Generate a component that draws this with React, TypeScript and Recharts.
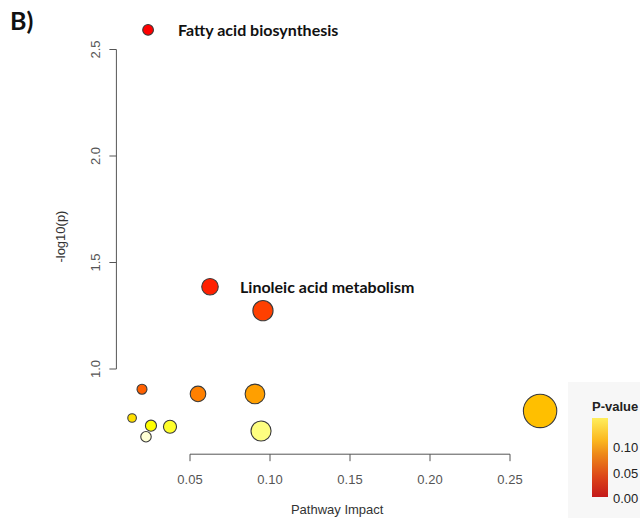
import React from 'react';
import {
  ScatterChart,
  Scatter,
  XAxis,
  YAxis,
  ZAxis,
  ReferenceLine,
  Label,
} from 'recharts';

// pathway topology results, ordered by -log10(p)
const pathwayLabels = [
  'Fatty acid biosynthesis',
  'Linoleic acid metabolism',
  '',
  '',
  '',
  '',
  '',
  '',
  '',
  '',
  '',
  '',
];
const pathwayImpact = [
  0.0238, 0.0625, 0.0956, 0.02, 0.055, 0.0906, 0.2688, 0.0138, 0.0256, 0.0375, 0.0944, 0.0225,
];
const negLogP = [
  2.592, 1.386, 1.274, 0.905, 0.883, 0.883, 0.803, 0.77, 0.734, 0.729, 0.709, 0.682,
];

const xTicks = [0.05, 0.1, 0.15, 0.2, 0.25];
const yTicks = [1.0, 1.5, 2.0, 2.5];
const legendTicks = ['0.10', '0.05', '0.00'];

const X_DOMAIN: [number, number] = [0.004, 0.3];
const Y_DOMAIN: [number, number] = [0.6, 2.7];

const AXIS_COLOR = '#555';
const AXIS_FONT = '"Liberation Sans", Arial, sans-serif';
const NOTE_FONT = 'Lato, "Open Sans", sans-serif';

// R's heat.colors(n)
const heatColor = (i: number, n: number) => {
  const j = Math.floor(n / 4);
  const k = n - j;
  const hex = (v: number) => Math.round(v).toString(16).padStart(2, '0');
  if (i < k) {
    const g = (255 * i) / (k - 1);
    return `#ff${hex(g)}00`;
  }
  const idx = i - k;
  const s = 1 - 1 / (2 * j) - (idx * (1 - 1 / j)) / Math.max(j - 1, 1);
  return `#ffff${hex(255 * (1 - s))}`;
};

const chartData = pathwayImpact.map((impact, i) => ({
  impact,
  logp: negLogP[i],
  label: pathwayLabels[i],
  color: heatColor(i, pathwayImpact.length),
}));

const PathwayNode = (props: any) => {
  const { cx, cy, size, payload } = props;
  const r = Math.sqrt((size ?? 64) / Math.PI);
  return (
    <g>
      <circle cx={cx} cy={cy} r={r} fill={payload.color} stroke="#3a3a3a" strokeWidth={1.1} />
      {payload.label ? (
        <text
          x={cx + 30}
          y={cy}
          dominantBaseline="central"
          fontFamily={NOTE_FONT}
          fontWeight={700}
          fontSize={16}
          fill="#111"
        >
          {payload.label}
        </text>
      ) : null}
    </g>
  );
};

const YTick = (props: any) => {
  const { x, y, payload } = props;
  const tx = x - 7;
  return (
    <text
      x={tx}
      y={y}
      transform={`rotate(-90 ${tx} ${y})`}
      textAnchor="middle"
      fontFamily={AXIS_FONT}
      fontSize={13}
      fill={AXIS_COLOR}
    >
      {Number(payload.value).toFixed(1)}
    </text>
  );
};

const YTitle = (props: any) => {
  const { viewBox } = props;
  const tx = viewBox.x + 4;
  const ty = viewBox.y + viewBox.height / 2 + 6;
  return (
    <text
      x={tx}
      y={ty}
      transform={`rotate(-90 ${tx} ${ty})`}
      textAnchor="middle"
      dominantBaseline="central"
      fontFamily={AXIS_FONT}
      fontSize={13}
      fill="#333"
    >
      -log10(p)
    </text>
  );
};

const XTitle = (props: any) => {
  const { viewBox } = props;
  return (
    <text
      x={viewBox.x + viewBox.width / 2 - 16}
      y={viewBox.y + 60}
      textAnchor="middle"
      fontFamily={AXIS_FONT}
      fontSize={13}
      fill="#333"
    >
      Pathway Impact
    </text>
  );
};

const PValueLegend = () => (
  <div
    style={{
      position: 'absolute',
      left: 568,
      top: 382,
      width: 72,
      height: 136,
      background: '#f7f7f7',
      fontFamily: AXIS_FONT,
      color: '#222',
    }}
  >
    <div style={{ position: 'absolute', left: 24, top: 17, fontSize: 13, fontWeight: 700 }}>
      P-value
    </div>
    <div
      style={{
        position: 'absolute',
        left: 24,
        top: 36,
        width: 16,
        height: 79,
        background:
          'linear-gradient(to top, #c41a1a 0%, #dc4418 25%, #ee8a18 55%, #fbb81e 72%, #ffee5c 100%)',
      }}
    />
    {legendTicks.map((t, i) => (
      <div
        key={t}
        style={{
          position: 'absolute',
          left: 45,
          top: 58 + i * 25.5,
          fontSize: 13,
          lineHeight: '16px',
        }}
      >
        {t}
      </div>
    ))}
  </div>
);

export default function App() {
  return (
    <div
      style={{
        position: 'absolute',
        left: 0,
        top: 0,
        width: 640,
        height: 518,
        background: '#fff',
        overflow: 'hidden',
      }}
    >
      <div
        style={{
          position: 'absolute',
          left: 10,
          top: 5,
          fontFamily: NOTE_FONT,
          fontWeight: 700,
          fontSize: 25,
          color: '#111',
        }}
      >
        B)
      </div>
      <ScatterChart
        width={640}
        height={518}
        margin={{ top: 6.9, right: 50, bottom: 23.8, left: 56.4 }}
      >
        <XAxis
          type="number"
          dataKey="impact"
          domain={X_DOMAIN}
          ticks={xTicks}
          allowDataOverflow
          height={40}
          axisLine={false}
          tickSize={7}
          tickMargin={14}
          tickLine={{ stroke: AXIS_COLOR }}
          tick={{ fill: AXIS_COLOR, fontSize: 13, fontFamily: AXIS_FONT }}
          tickFormatter={(v: number) => v.toFixed(2)}
        >
          <Label content={<XTitle />} />
        </XAxis>
        <YAxis
          type="number"
          dataKey="logp"
          domain={Y_DOMAIN}
          ticks={yTicks}
          allowDataOverflow
          width={60}
          axisLine={false}
          tickSize={7}
          tickLine={{ stroke: AXIS_COLOR }}
          tick={<YTick />}
        >
          <Label content={<YTitle />} />
        </YAxis>
        <ZAxis type="number" dataKey="impact" domain={[0, 0.3]} range={[14, 976]} />
        <ReferenceLine
          segment={[
            { x: xTicks[0], y: Y_DOMAIN[0] },
            { x: xTicks[xTicks.length - 1], y: Y_DOMAIN[0] },
          ]}
          stroke={AXIS_COLOR}
          ifOverflow="visible"
        />
        <ReferenceLine
          segment={[
            { x: X_DOMAIN[0], y: yTicks[0] },
            { x: X_DOMAIN[0], y: yTicks[yTicks.length - 1] },
          ]}
          stroke={AXIS_COLOR}
          ifOverflow="visible"
        />
        <Scatter data={chartData} shape={<PathwayNode />} isAnimationActive={false} />
      </ScatterChart>
      <PValueLegend />
    </div>
  );
}
